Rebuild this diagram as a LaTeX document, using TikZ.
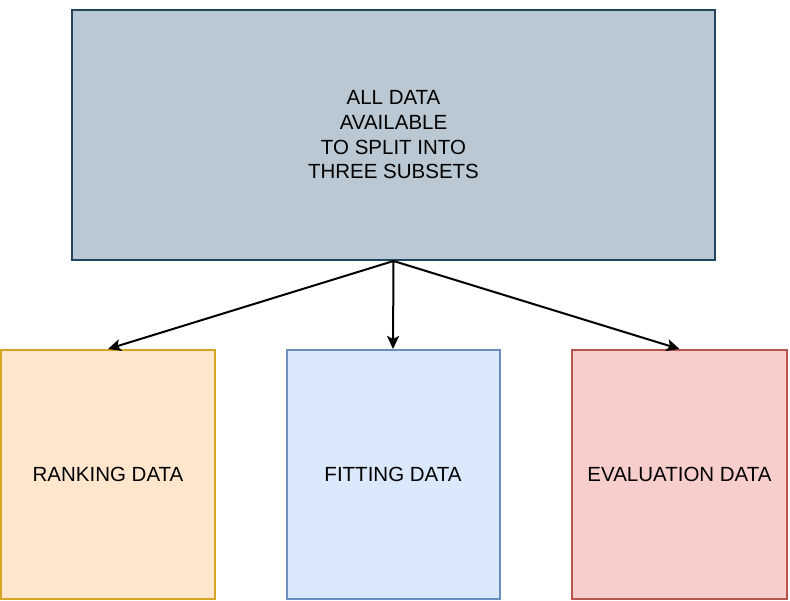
\documentclass[tikz,border=0pt]{standalone}
\usepackage{fontspec}
\setmainfont{Liberation Sans}
\usetikzlibrary{arrows.meta}
\definecolor{topfill}{HTML}{BAC8D3}
\definecolor{topdraw}{HTML}{23445D}
\definecolor{orfill}{HTML}{FFE6CC}
\definecolor{ordraw}{HTML}{D9A520}
\definecolor{blfill}{HTML}{DAE8FC}
\definecolor{bldraw}{HTML}{6C8EBF}
\definecolor{rdfill}{HTML}{F8CECC}
\definecolor{rddraw}{HTML}{B85450}
\tikzset{
  box/.style={rectangle, inner sep=0pt, line width=2pt, align=center,
    font=\fontsize{20.5pt}{24.7pt}\selectfont},
  link/.style={line width=2pt, -{Stealth[length=13pt,width=12pt,inset=3pt]}}
}
\begin{document}
\begin{tikzpicture}[x=1pt,y=1pt]
\useasboundingbox (0,0) rectangle (790,-601);
\node[box, fill=topfill, draw=topdraw, minimum width=643pt, minimum height=250pt]
  (all) at (393.5,-135) {ALL DATA\\AVAILABLE\\TO SPLIT INTO\\THREE SUBSETS};
\node[box, fill=orfill, draw=ordraw, minimum width=214pt, minimum height=249pt]
  (rank) at (108,-474.5) {RANKING DATA};
\node[box, fill=blfill, draw=bldraw, minimum width=213pt, minimum height=249pt]
  (fit) at (393,-474.5) {FITTING DATA};
\node[box, fill=rdfill, draw=rddraw, minimum width=215pt, minimum height=249pt]
  (eval) at (679.5,-474.5) {EVALUATION DATA};
\draw[link] (all.south) -- (rank.north);
\draw[link] (all.south) -- (fit.north);
\draw[link] (all.south) -- (eval.north);
\end{tikzpicture}
\end{document}
